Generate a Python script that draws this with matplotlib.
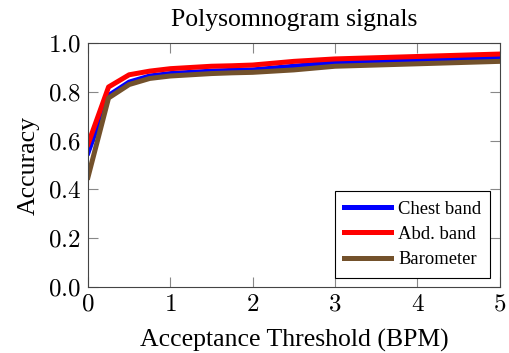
import numpy as np
import matplotlib
matplotlib.use("Agg")
import matplotlib.pyplot as plt

plt.rcParams['font.family'] = ['Liberation Serif', 'DejaVu Serif']
plt.rcParams['mathtext.fontset'] = 'cm'

# acceptance threshold (BPM)
thresh = [0, 0.25, 0.5, 0.75, 1, 1.25, 1.5, 1.75, 2, 2.5, 3, 3.5, 4, 4.5, 5]
chest = [0.55, 0.785, 0.84, 0.865, 0.875, 0.88, 0.885, 0.888, 0.89, 0.905, 0.92, 0.925, 0.93, 0.935, 0.94]
abd = [0.585, 0.82, 0.87, 0.885, 0.895, 0.9, 0.905, 0.907, 0.91, 0.925, 0.935, 0.94, 0.945, 0.95, 0.955]
baro = [0.45, 0.775, 0.83, 0.855, 0.865, 0.87, 0.875, 0.878, 0.88, 0.89, 0.905, 0.91, 0.915, 0.92, 0.925]

xticks = [0, 1, 2, 3, 4, 5]
yticks = [0.0, 0.2, 0.4, 0.6, 0.8, 1.0]

fig = plt.figure(figsize=(5.1, 3.53), dpi=100)
ax = fig.add_axes([0.1725, 0.187, 0.8075, 0.691])

ax.plot(thresh, chest, color='#0000ff', lw=3.6, label='Chest band')
ax.plot(thresh, abd, color='#ff0000', lw=3.6, label='Abd. band')
ax.plot(thresh, baro, color='#73512b', lw=3.6, label='Barometer')

ax.set_xlim(0, 5)
ax.set_ylim(0, 1)
ax.set_xticks(xticks)
ax.set_xticklabels(['$%d$' % v for v in xticks])
ax.set_yticks(yticks)
ax.set_yticklabels(['$%.1f$' % v for v in yticks])
ax.tick_params(direction='in', top=True, right=True, labelsize=18, length=7,
               width=0.8, color='#888888', pad=5)
for s in ax.spines.values():
    s.set_color('#444444')
ax.set_xlabel('Acceptance Threshold (BPM)', fontsize=18.5, labelpad=9)
ax.set_ylabel('Accuracy', fontsize=18.5, labelpad=6)
ax.set_title('Polysomnogram signals', fontsize=18.5, pad=12)

leg = ax.legend(loc='lower right', fontsize=13.4, fancybox=False, framealpha=1,
                edgecolor='black', borderaxespad=0.5, handlelength=2.5,
                handletextpad=0.4, labelspacing=0.45, borderpad=0.5)
leg.get_frame().set_linewidth(0.8)

plt.savefig("out.png")
